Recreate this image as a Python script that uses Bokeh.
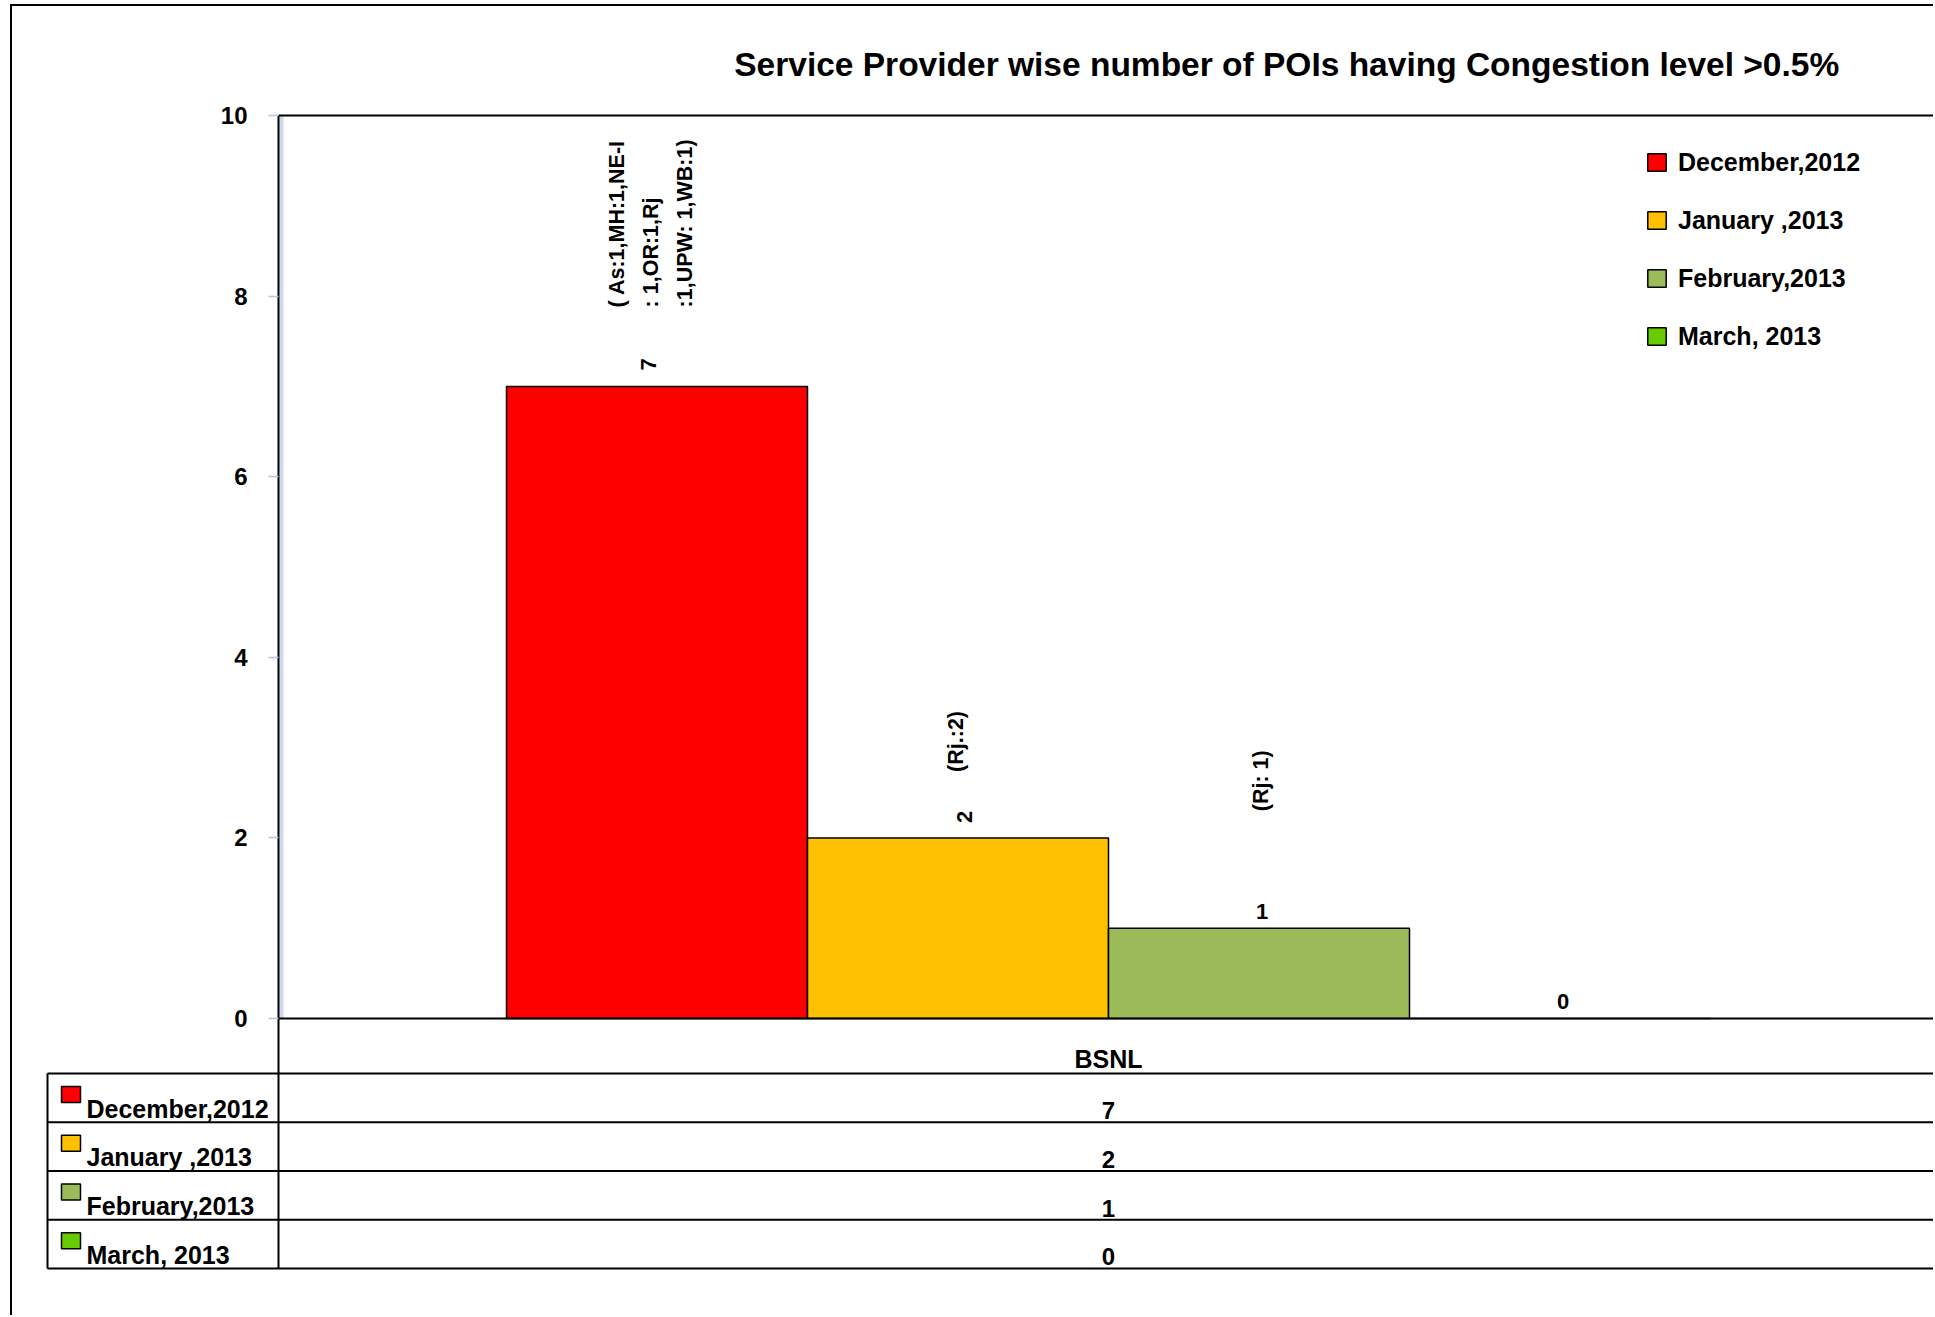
import math
from bokeh.plotting import figure
from bokeh.models import Range1d, ColumnDataSource, Legend, LegendItem, FixedTicker
from bokeh.layouts import column
from bokeh.embed import file_html
from bokeh.resources import INLINE
from bokeh.core.properties import value

# ---------------- data ----------------
categories = ["BSNL"]
series = ["December,2012", "January ,2013", "February,2013", "March, 2013"]
bsnl_values = [7, 2, 1, 0]
notes = ["( As:1,MH:1,NE-I\n: 1,OR:1,Rj\n:1,UPW: 1,WB:1)", "(Rj.:2)", "(Rj: 1)", ""]
y_ticks = [0, 2, 4, 6, 8, 10]
title_text = "Service Provider wise number of POIs having Congestion level  >0.5%"

# ---------------- styles / layout ----------------
colors = ["#FF0000", "#FFC000", "#9BBB59", "#66CC00"]
FONT = value("Liberation Sans")
OX, OY = 12, 6            # figure origin on the page (after css margin + border)
W, H = 1921, 1309         # figure size
AXIS_SX = 278             # page x of value axis
ZERO_SY = 1018            # page y of value 0
TOP_SY = 115              # page y of value 10 (top of plot area)
FRAME_SY = TOP_SY - 22    # page y of drawing frame top (room for the "10" label)
T = FRAME_SY - OY         # frame top inside figure
PY = (ZERO_SY - TOP_SY) / 10.0   # pixels per value unit
PX = 1660.0               # pixels per category unit


def x_of(sx):
    return -0.5 + (sx - AXIS_SX) / PX


def y_of(sy):
    return (ZERO_SY - sy) / PY


x_start = x_of(OX)
x_end = x_of(OX + W)
y_start = y_of(OY + H)
y_end = y_of(FRAME_SY)
bar_w = 301 / PX

label_angle = [math.pi / 2, math.pi / 2, 0, 0]
label_dx = [-9, 6, 3, 3]
label_dy = [-22, -21, -17, -17]
note_dx = [-6, -2, 2, 0]
note_dy = [-79, -66, -117, 0]

cat_idx = categories.index("BSNL")
xs = [cat_idx + (i - 1.5) * bar_w for i in range(len(series))]

src = ColumnDataSource(dict(
    x=xs, top=bsnl_values, color=colors, series=series,
    label=[str(v) for v in bsnl_values], angle=label_angle,
    dx=label_dx, dy=label_dy, note=notes, ndx=note_dx, ndy=note_dy,
))

# table geometry (page pixels)
TBL_LEFT_SX = 47
TBL_TOP_SY = 1073
ROW = 48.75
row_tops = [TBL_TOP_SY + i * ROW for i in range(len(series) + 1)]
TBL_BOTTOM_SY = row_tops[-1]

p = figure(width=W, height=H, output_backend="svg", toolbar_location=None,
           x_range=Range1d(x_start, x_end), y_range=Range1d(y_start, y_end),
           min_border_left=0, min_border_top=T, min_border_right=0, min_border_bottom=0)
p.title.text = title_text
p.title.align = "right"
p.title.offset = 85
p.title.standoff = 22
p.title.text_font = "Liberation Sans"
p.title.text_font_size = "33.5px"
p.title.text_font_style = "bold"
p.title.text_color = "black"

p.outline_line_color = None
p.xgrid.visible = False
p.ygrid.visible = False
p.xaxis.visible = False

ya = p.yaxis[0]
ya.fixed_location = -0.5
ya.bounds = (y_of(TBL_BOTTOM_SY), 10)
ya.ticker = FixedTicker(ticks=y_ticks)
ya.major_label_text_font = "Liberation Sans"
ya.major_label_text_font_size = "24px"
ya.major_label_text_font_style = "bold"
ya.major_label_text_color = "black"
ya.major_label_text_baseline = "top"
ya.axis_line_color = "black"
ya.axis_line_width = 2
ya.major_tick_line_color = "#B4C7E7"
ya.major_tick_line_width = 1.5
ya.major_tick_out = 10
ya.major_tick_in = 0
ya.minor_tick_line_color = None
ya.major_label_standoff = 21

# light stripe next to the value axis
p.quad(left=-0.5 + 1 / PX, right=-0.5 + 5 / PX, bottom=0, top=10,
       fill_color="#CCD9EE", line_color=None)

bars = p.vbar(x="x", top="top", width=bar_w, bottom=0, fill_color="color",
              line_color="black", line_width=1.5, source=src)

# top of plot area and category baseline
p.segment(x0=[-0.5, -0.5], x1=[x_end, x_end], y0=[10, 0], y1=[10, 0],
          line_color="black", line_width=2)

p.text(x="x", y="top", text="label", angle="angle", x_offset="dx", y_offset="dy",
       text_align="center", text_baseline="middle", text_font=FONT,
       text_font_size="22px", text_font_style="bold", text_color="black", source=src)

p.text(x="x", y="top", text="note", angle=math.pi / 2, x_offset="ndx", y_offset="ndy",
       text_align="left", text_baseline="middle", text_font=FONT,
       text_font_size="21.5px", text_font_style="bold", text_color="black",
       text_line_height=1.4, source=src)

FRAME_H = H - T
legend = Legend(
    items=[LegendItem(label=s, renderers=[bars], index=i) for i, s in enumerate(series)],
    location=(1633, FRAME_H - (152.5 - FRAME_SY) - 198), orientation="vertical",
    border_line_color=None, background_fill_alpha=0, padding=0, margin=0,
    glyph_width=23, glyph_height=22, label_standoff=10, spacing=29, label_height=28,
    label_text_font="Liberation Sans", label_text_font_size="25px",
    label_text_font_style="bold", label_text_color="black",
)
p.add_layout(legend, "center")

# ---------------- data table under the chart ----------------
n = len(row_tops)
p.segment(x0=[x_of(TBL_LEFT_SX)] * n, x1=[x_end] * n,
          y0=[y_of(s) for s in row_tops], y1=[y_of(s) for s in row_tops],
          line_color="black", line_width=2)
p.segment(x0=[x_of(TBL_LEFT_SX)], x1=[x_of(TBL_LEFT_SX)],
          y0=[y_of(TBL_TOP_SY)], y1=[y_of(TBL_BOTTOM_SY)], line_color="black", line_width=2)

p.text(x=[cat_idx], y=[y_of(1058)], text=categories, text_align="center",
       text_baseline="middle", text_font=FONT, text_font_size="25px",
       text_font_style="bold", text_color="black")

tsrc = ColumnDataSource(dict(
    series=series, color=colors, val=[str(v) for v in bsnl_values],
    sw_x=[x_of(70.5)] * len(series),
    sw_y=[y_of(rt + 21) for rt in row_tops[:-1]],
    lab_x=[x_of(86)] * len(series),
    lab_y=[y_of(rt + 35) for rt in row_tops[:-1]],
    val_x=[cat_idx] * len(series),
    val_y=[y_of(rt + 37) for rt in row_tops[:-1]],
))
p.rect(x="sw_x", y="sw_y", width=19, height=16, width_units="screen", height_units="screen",
       fill_color="color", line_color="black", line_width=1.5, source=tsrc)
p.text(x="lab_x", y="lab_y", text="series", text_align="left", text_baseline="middle",
       text_font=FONT, text_font_size="25px", text_font_style="bold", text_color="black",
       source=tsrc)
p.text(x="val_x", y="val_y", text="val", text_align="center", text_baseline="middle",
       text_font=FONT, text_font_size="24px", text_font_style="bold", text_color="black",
       source=tsrc)

layout = column(p, styles={"margin-left": "10px", "margin-top": "4px",
                           "border-left": "2px solid black", "border-top": "2px solid black"})

open("out.html", "w").write(file_html(layout, INLINE))
